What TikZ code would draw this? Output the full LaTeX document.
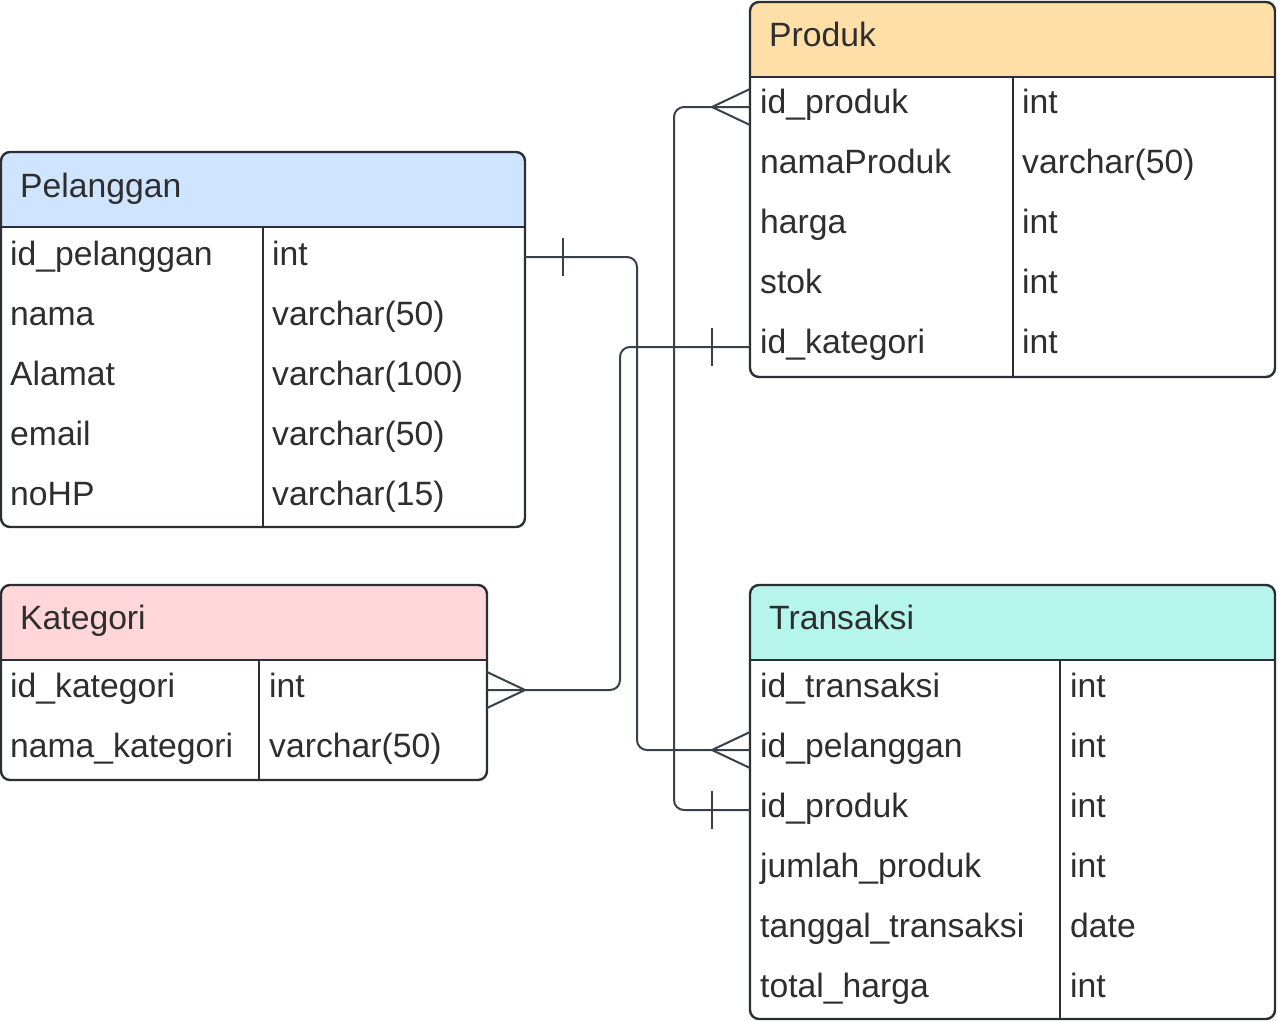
\documentclass[tikz,border=0pt]{standalone}
\usepackage{fontspec}
\setmainfont{Liberation Sans}
\usepackage{tikz}

\definecolor{edge}{HTML}{2B2E33}
\definecolor{link}{HTML}{3A4049}
\definecolor{ink}{HTML}{2E2E2E}
\definecolor{pelcol}{HTML}{CFE4FF}
\definecolor{katcol}{HTML}{FFD7DA}
\definecolor{prdcol}{HTML}{FFDFA8}
\definecolor{trxcol}{HTML}{B5F5EC}

\begin{document}
\begin{tikzpicture}[x=1pt, y=-1pt, line join=round,
	tbl/.style={draw=edge, line width=2.4pt, rounded corners=9pt},
	sep/.style={draw=edge, line width=2pt},
	rel/.style={draw=link, line width=2pt, rounded corners=10pt},
	foot/.style={draw=link, line width=2pt},
	cell/.style={anchor=base west, inner sep=0pt, text=ink, font=\fontsize{33.7}{40}\selectfont}]
			\useasboundingbox (0,0) rectangle (1277,1020);
			% Pelanggan
			\fill[pelcol] (1,227) [rounded corners=9pt] -- (1,152) -- (525,152) [sharp corners] -- (525,227) -- cycle;
			\draw[tbl] (1,152) rectangle (525,527);
			\draw[sep] (1,227) -- (525,227);
			\draw[sep] (263,227) -- (263,527);
			\node[cell] (pel) at (20,197) {Pelanggan};
			\node[cell] (pel1) at (10,265) {id\_pelanggan};
			\node[cell] (pel2) at (10,325) {nama};
			\node[cell] (pel3) at (10,385) {Alamat};
			\node[cell] (pel4) at (10,445) {email};
			\node[cell] (pel5) at (10,505) {noHP};
			\node[cell] (pelT1) at (272,265) {int};
			\node[cell] (pelT2) at (272,325) {varchar(50)};
			\node[cell] (pelT3) at (272,385) {varchar(100)};
			\node[cell] (pelT4) at (272,445) {varchar(50)};
			\node[cell] (pelT5) at (272,505) {varchar(15)};
			\coordinate (pelId) at (525,257);
			% Kategori
			\fill[katcol] (1,660) [rounded corners=9pt] -- (1,585) -- (487,585) [sharp corners] -- (487,660) -- cycle;
			\draw[tbl] (1,585) rectangle (487,780);
			\draw[sep] (1,660) -- (487,660);
			\draw[sep] (259,660) -- (259,780);
			\node[cell] (kat) at (20,629) {Kategori};
			\node[cell] (kat1) at (10,697) {id\_kategori};
			\node[cell] (kat2) at (10,757) {nama\_kategori};
			\node[cell] (katT1) at (269,697) {int};
			\node[cell] (katT2) at (269,757) {varchar(50)};
			\coordinate (katId) at (487,690);
			% Produk
			\fill[prdcol] (750,77) [rounded corners=9pt] -- (750,2) -- (1275,2) [sharp corners] -- (1275,77) -- cycle;
			\draw[tbl] (750,2) rectangle (1275,377);
			\draw[sep] (750,77) -- (1275,77);
			\draw[sep] (1013,77) -- (1013,377);
			\node[cell] (prd) at (769,46) {Produk};
			\node[cell] (prd1) at (760,113) {id\_produk};
			\node[cell] (prd2) at (760,173) {namaProduk};
			\node[cell] (prd3) at (760,233) {harga};
			\node[cell] (prd4) at (760,293) {stok};
			\node[cell] (prd5) at (760,353) {id\_kategori};
			\node[cell] (prdT1) at (1022,113) {int};
			\node[cell] (prdT2) at (1022,173) {varchar(50)};
			\node[cell] (prdT3) at (1022,233) {int};
			\node[cell] (prdT4) at (1022,293) {int};
			\node[cell] (prdT5) at (1022,353) {int};
			\coordinate (prdId) at (750,107);
			\coordinate (prdKat) at (750,347);
			% Transaksi
			\fill[trxcol] (750,660) [rounded corners=9pt] -- (750,585) -- (1275,585) [sharp corners] -- (1275,660) -- cycle;
			\draw[tbl] (750,585) rectangle (1275,1019);
			\draw[sep] (750,660) -- (1275,660);
			\draw[sep] (1060,660) -- (1060,1019);
			\node[cell] (trx) at (769,629) {Transaksi};
			\node[cell] (trx1) at (760,697) {id\_transaksi};
			\node[cell] (trx2) at (760,757) {id\_pelanggan};
			\node[cell] (trx3) at (760,817) {id\_produk};
			\node[cell] (trx4) at (760,877) {jumlah\_produk};
			\node[cell] (trx5) at (760,937) {tanggal\_transaksi};
			\node[cell] (trx6) at (760,997) {total\_harga};
			\node[cell] (trxT1) at (1070,697) {int};
			\node[cell] (trxT2) at (1070,757) {int};
			\node[cell] (trxT3) at (1070,817) {int};
			\node[cell] (trxT4) at (1070,877) {int};
			\node[cell] (trxT5) at (1070,937) {date};
			\node[cell] (trxT6) at (1070,997) {int};
			\coordinate (trxPel) at (750,750);
			\coordinate (trxPrd) at (750,810);
			% relasi
			\draw[rel] (pelId) -- (637,257) -- (637,750) -- (trxPel);
			\draw[foot] (563,238) -- (563,276);
			\draw[foot] (712,750) -- (750,732) (712,750) -- (750,768);
			\draw[rel] (prdKat) -- (620,347) -- (620,690) -- (katId);
			\draw[foot] (712,328) -- (712,366);
			\draw[foot] (525,690) -- (487,672) (525,690) -- (487,708);
			\draw[rel] (prdId) -- (674,107) -- (674,810) -- (trxPrd);
			\draw[foot] (712,107) -- (750,89) (712,107) -- (750,125);
			\draw[foot] (712,791) -- (712,829);
\end{tikzpicture}
\end{document}
